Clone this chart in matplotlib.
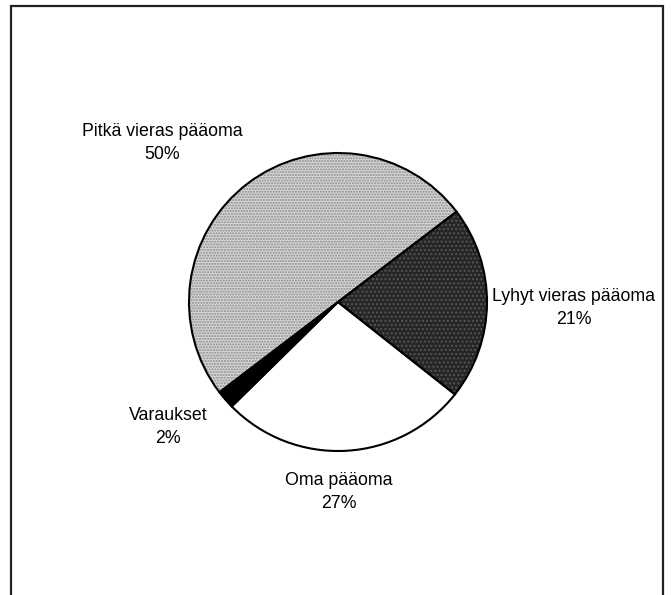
import matplotlib
matplotlib.use("Agg")
import matplotlib.pyplot as plt
from matplotlib.patches import Rectangle

labels = ["Lyhyt vieras pääoma", "Oma pääoma", "Varaukset", "Pitkä vieras pääoma"]
values = [21, 27, 2, 50]
pct_labels = ["21%", "27%", "2%", "50%"]

W, H = 672, 595
fig = plt.figure(figsize=(W / 100, H / 100), dpi=100)
fig.patch.set_facecolor("white")
ax = fig.add_axes([0, 0, 1, 1])

cx, cy, r = 338, H - 302, 149
face = ["#262626", "white", "black", "#d6d6d6"]
hatches = ["....", None, None, "......"]

# filled wedges with texture
wedges, _ = ax.pie(values, startangle=37.3, counterclock=False,
                   center=(cx, cy), radius=r, colors=face,
                   wedgeprops=dict(linewidth=0), frame=True)
for w, h, c in zip(wedges, hatches, ["#555555", None, None, "#8a8a8a"]):
    if h:
        w.set_hatch(h)
        w.set_edgecolor(c)
# outlines
ax.pie(values, startangle=37.3, counterclock=False,
       center=(cx, cy), radius=r, colors=["none"] * 4,
       wedgeprops=dict(linewidth=1.5, edgecolor="black", fill=False), frame=True)
ax.set_xlim(0, W)
ax.set_ylim(0, H)
ax.set_aspect("auto")
ax.axis("off")

pos = [(574, 308), (339, 492), (168, 427), (162, 143)]
for lab, pct, (x, y) in zip(labels, pct_labels, pos):
    ax.text(x, H - y, lab + "\n" + pct, ha="center", va="center",
            fontsize=12.8, family="Liberation Sans", linespacing=1.5, color="black")

# frame
ax.add_patch(Rectangle((11, -10), 652, H - 6 + 10, fill=False, linewidth=1.6,
                       edgecolor="#222222", clip_on=False))

fig.savefig("out.png", dpi=100, facecolor="white")
